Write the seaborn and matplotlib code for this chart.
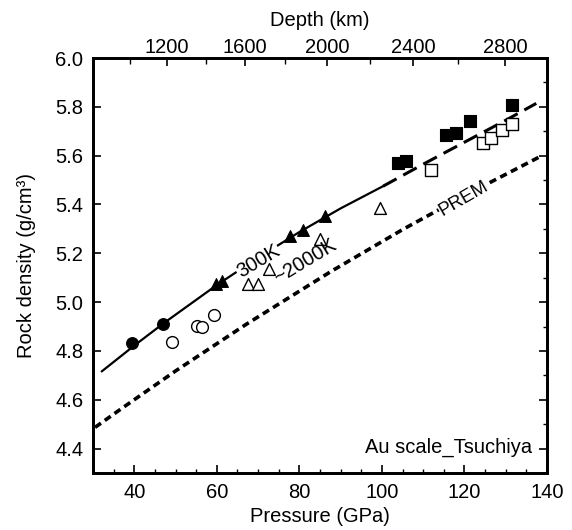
import matplotlib
matplotlib.use("Agg")
import matplotlib.pyplot as plt
import seaborn as sns

# ---- data ----
circ300_P = [39.5, 47.0]
circ300_rho = [4.832, 4.909]
tri300_P = [59.8, 61.2, 77.7, 80.9, 86.2]
tri300_rho = [5.073, 5.086, 5.270, 5.294, 5.352]
sq300_P = [103.9, 105.9, 115.6, 117.9, 121.4, 131.6]
sq300_rho = [5.571, 5.577, 5.684, 5.692, 5.741, 5.809]

circ2000_P = [49.2, 55.1, 56.3, 59.3]
circ2000_rho = [4.837, 4.902, 4.900, 4.946]
tri2000_P = [67.6, 70.0, 72.7, 85.0, 99.5]
tri2000_rho = [5.073, 5.073, 5.134, 5.257, 5.386]
sq2000_P = [112.0, 124.5, 126.5, 129.0, 131.4]
sq2000_rho = [5.543, 5.652, 5.673, 5.707, 5.731]

fit300_P = [32.1, 40, 47, 60, 70, 80, 90, 100.3]
fit300_rho = [4.716, 4.822, 4.912, 5.070, 5.182, 5.287, 5.384, 5.475]
ext300_P = [100.3, 110, 120, 130, 137.4]
ext300_rho = [5.475, 5.565, 5.655, 5.745, 5.814]

prem_P = [30.5, 37, 50, 67.2, 87.8, 105.1, 120, 138.2]
prem_rho = [4.487, 4.565, 4.718, 4.910, 5.127, 5.298, 5.436, 5.595]

depth_major_km = [1200, 1600, 2000, 2400, 2800]
depth_major_P = [47.9, 66.8, 86.7, 107.5, 129.8]
depth_minor_P = [39.0, 57.4, 76.5, 97.1, 118.4]

x_ticks = [40, 60, 80, 100, 120, 140]
y_ticks = [4.4, 4.6, 4.8, 5.0, 5.2, 5.4, 5.6, 5.8, 6.0]

# ---- style ----
sns.set_theme(style="ticks")
plt.rcParams['font.family'] = ['Liberation Sans', 'DejaVu Sans']
plt.rcParams['text.color'] = 'black'
plt.rcParams['axes.labelcolor'] = 'black'
plt.rcParams['xtick.color'] = 'black'
plt.rcParams['ytick.color'] = 'black'
FS = 14.5

fig = plt.figure(figsize=(5.72, 5.30), dpi=100)
ax = fig.add_axes([93/572, 57/530, (547-93)/572, (473-58)/530])

# lines
sns.lineplot(x=fit300_P, y=fit300_rho, ax=ax, color='black', lw=1.6, sort=False)
sns.lineplot(x=ext300_P, y=ext300_rho, ax=ax, color='black', lw=2.2, sort=False)
ax.lines[-1].set_dashes([5, 2.5])
sns.lineplot(x=prem_P, y=prem_rho, ax=ax, color='black', lw=2.6, sort=False)
ax.lines[-1].set_dashes([2.0, 1.3])

ms = 72
kw_f = dict(color='black', edgecolor='black', linewidth=0.8, ax=ax, zorder=4)
kw_o = dict(facecolor='white', edgecolor='black', linewidth=1.0, ax=ax, zorder=4)
sns.scatterplot(x=circ300_P, y=circ300_rho, marker='o', s=ms, **kw_f)
sns.scatterplot(x=tri300_P, y=tri300_rho, marker='^', s=ms, **kw_f)
sns.scatterplot(x=sq300_P, y=sq300_rho, marker='s', s=ms+8, **kw_f)
sns.scatterplot(x=circ2000_P, y=circ2000_rho, marker='o', s=ms, **kw_o)
sns.scatterplot(x=tri2000_P, y=tri2000_rho, marker='^', s=ms, **kw_o)
sns.scatterplot(x=sq2000_P, y=sq2000_rho, marker='s', s=ms+8, **kw_o)

# labels on curves
bb = dict(facecolor='white', edgecolor='none', pad=0.5)
ax.text(70.0, 5.168, '300K', rotation=31, ha='center', va='center', fontsize=FS,
        bbox=bb, zorder=3)
ax.text(81.3, 5.166, '~2000K', rotation=31, ha='center', va='center', fontsize=FS,
        zorder=5)
ax.text(119.9, 5.425, 'PREM', rotation=30, ha='center', va='center', fontsize=FS-1,
        bbox=bb, zorder=3)
ax.text(136.5, 4.407, 'Au scale_Tsuchiya', ha='right', va='center', fontsize=FS)

ax.set_xlim(30, 140)
ax.set_ylim(4.3, 6.0)
ax.set_xticks(x_ticks)
ax.set_yticks(y_ticks)
ax.set_xticks([v for v in range(35, 140, 5) if v not in x_ticks], minor=True)
ax.set_yticks([4.5, 4.7, 4.9, 5.1, 5.3, 5.5, 5.7, 5.9], minor=True)
ax.set_xlabel('Pressure (GPa)', fontsize=FS, labelpad=4)
ax.set_ylabel('Rock density (g/cm³)', fontsize=FS, labelpad=14)
ax.tick_params(axis='both', which='major', direction='in', length=6, width=1.2,
               labelsize=FS, top=False, right=True, pad=7)
ax.tick_params(axis='both', which='minor', direction='in', length=3, width=1.0,
               top=False, right=True)
ax.tick_params(axis='y', which='minor', left=False)
for s in ax.spines.values():
    s.set_linewidth(2.0)
    s.set_color('black')

ax2 = ax.twiny()
ax2.set_xlim(30, 140)
ax2.set_xticks(depth_major_P)
ax2.set_xticklabels([str(d) for d in depth_major_km])
ax2.set_xticks(depth_minor_P, minor=True)
ax2.tick_params(axis='x', which='major', direction='in', length=6, width=1.2,
                labelsize=FS, pad=1)
ax2.tick_params(axis='x', which='minor', direction='in', length=4, width=1.0)
ax2.set_xlabel('Depth (km)', fontsize=FS, labelpad=8)
for s in ax2.spines.values():
    s.set_linewidth(2.0)
    s.set_color('black')

fig.savefig('out.png', dpi=100)
